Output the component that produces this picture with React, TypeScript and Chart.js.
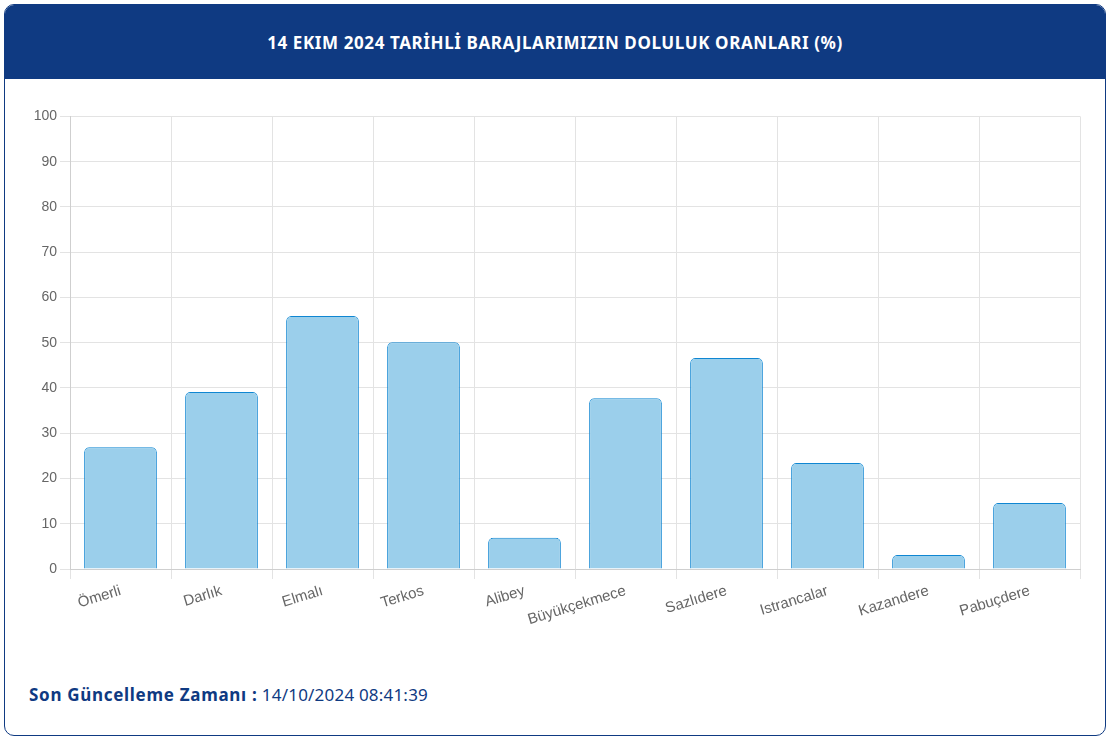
import React, { useEffect, useRef } from "react";
import { Chart, registerables } from "chart.js";

Chart.register(...registerables);

const categories = ["Ömerli", "Darlık", "Elmalı", "Terkos", "Alibey", "Büyükçekmece", "Sazlıdere", "Istrancalar", "Kazandere", "Pabuçdere"];
const fillRates = [26.9, 39.1, 55.9, 50.1, 6.9, 37.7, 46.6, 23.4, 3.1, 14.6];
const yMin = 0;
const yMax = 100;
const yStep = 10;
const titleText = "14 EKIM 2024 TARİHLİ BARAJLARIMIZIN DOLULUK ORANLARI (%)";
const footerLabel = "Son Güncelleme Zamanı :";
const footerValue = "14/10/2024 08:41:39";

const NAVY = "#0f3a82";

export default function App() {
  const canvasRef = useRef<HTMLCanvasElement | null>(null);

  useEffect(() => {
    if (!canvasRef.current) return;
    const chart = new Chart(canvasRef.current, {
      type: "bar",
      data: {
        labels: categories,
        datasets: [
          {
            data: fillRates,
            backgroundColor: "#9bcfeb",
            borderColor: "#0f86d2",
            borderWidth: 1,
            borderRadius: 5,
            borderSkipped: "bottom",
            barPercentage: 0.9,
            categoryPercentage: 0.8,
          },
        ],
      },
      options: {
        animation: false,
        responsive: true,
        maintainAspectRatio: false,
        layout: { padding: { top: 8, right: 5, left: 0, bottom: 0 } },
        plugins: { legend: { display: false }, tooltip: { enabled: false } },
        scales: {
          x: {
            grid: { color: "#e3e3e3", tickLength: 10, offset: true },
            border: { color: "#cfcfcf" },
            ticks: {
              color: "#666",
              font: { family: "'Liberation Sans', Arial, sans-serif", size: 15 },
              minRotation: 17,
              maxRotation: 17,
              autoSkip: false,
            },
            afterFit: (s: any) => {
              s.height = 60;
            },
          },
          y: {
            min: yMin,
            max: yMax,
            grid: { color: "#e3e3e3", tickLength: 10 },
            border: { color: "#cfcfcf" },
            ticks: {
              stepSize: yStep,
              color: "#666",
              padding: 3,
              font: { family: "'Liberation Sans', Arial, sans-serif", size: 14 },
            },
            afterFit: (s: any) => {
              s.width = 40;
            },
          },
        },
      },
    });
    return () => chart.destroy();
  }, []);

  return (
    <div
      style={{
        position: "absolute",
        left: 4,
        top: 4,
        width: 1102,
        height: 732,
        boxSizing: "border-box",
        border: `1px solid ${NAVY}`,
        borderRadius: 10,
        overflow: "hidden",
        background: "#fff",
        fontFamily: "'Noto Sans', sans-serif",
      }}
    >
      <div
        style={{
          height: 74,
          background: NAVY,
          color: "#fff",
          fontWeight: 700,
          fontSize: 17,
          letterSpacing: 0.6,
          display: "flex",
          alignItems: "center",
          justifyContent: "center",
        }}
      >
        {titleText}
      </div>
      <div style={{ position: "absolute", left: 25, top: 100, width: 1055, height: 524 }}>
        <canvas ref={canvasRef} />
      </div>
      <div
        style={{
          position: "absolute",
          left: 24,
          top: 678,
          fontSize: 17,
          color: NAVY,
        }}
      >
        <span style={{ fontWeight: 700, letterSpacing: 0.7 }}>{footerLabel}</span>{" "}
        <span style={{ letterSpacing: 0.2 }}>{footerValue}</span>
      </div>
    </div>
  );
}
